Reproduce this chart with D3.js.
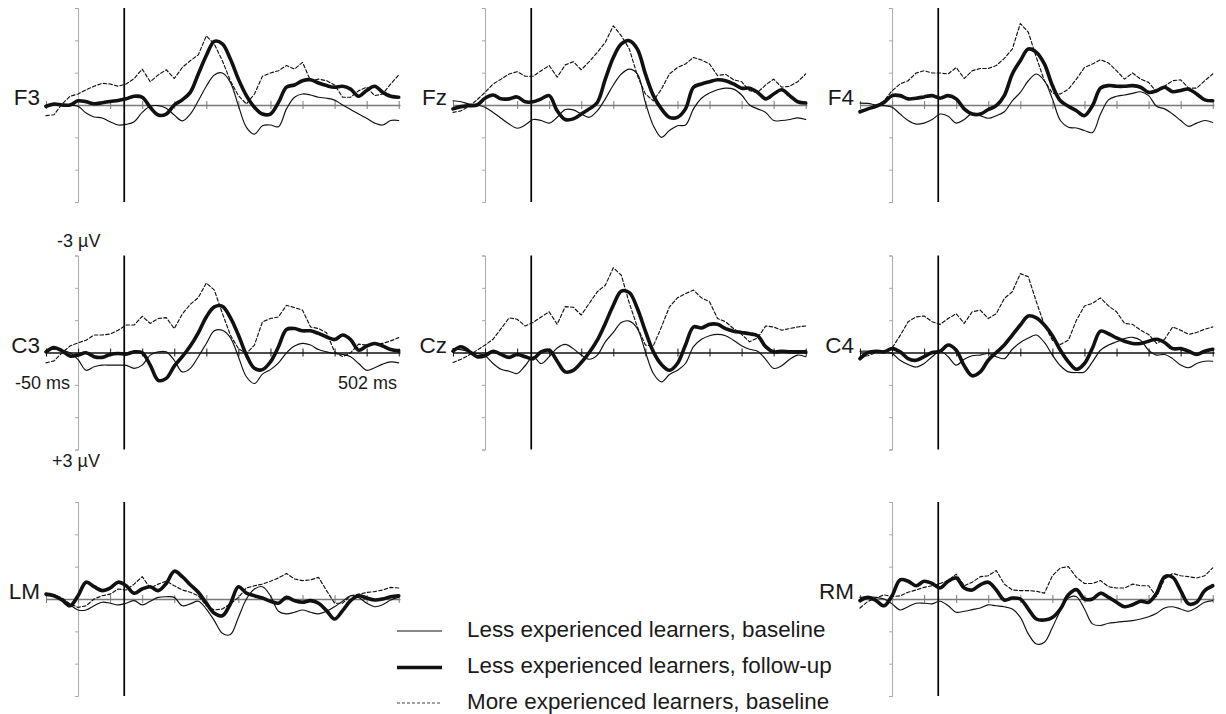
<!DOCTYPE html>
<html><head><meta charset="utf-8">
<script src="https://cdn.jsdelivr.net/npm/d3@7"></script>
<style>
body{margin:0;background:#fff}
svg{display:block}
text{font-family:"Liberation Sans",Arial,Helvetica,sans-serif;fill:#1a1a1a}
</style>
</head><body>
<svg id="chart" width="1226" height="714"></svg>
<script>
// ---- DATA ----
const times = [-50,-37.5,-25,-12.5,0,12.5,25,37.5,50,62.5,75,87.5,100,112.5,125,137.5,150,162.5,175,187.5,200,212.5,225,237.5,250,262.5,275,287.5,300,312.5,325,337.5,350,362.5,375,387.5,400,412.5,425,437.5,450,462.5,475,487.5,500];
const seriesNames = ["Less experienced learners, baseline","Less experienced learners, follow-up","More experienced learners, baseline"];
const electrodes = ["F3","Fz","F4","C3","Cz","C4","LM","RM"];
const timeDomain = [-50, 502];
const voltDomain = [-3, 3];
const xTickValues = [-50,0,50,100,150,200,250,300,350,400,450,500];
const yTickValues = [-3,-2,-1,0,1,2,3];
const onsetMs = 72;
const scaleLabels = ["-3 µV","+3 µV","-50 ms","502 ms"];

// values in µV (negative plotted up)
const F3_lessBase = [0.02,-0.03,0,0,0.04,0.25,0.37,0.40,0.52,0.62,0.60,0.52,0.23,0.04,0.02,0.10,0.31,0.49,0.28,-0.13,-0.58,-0.93,-0.99,-0.70,0.02,0.69,0.90,0.64,0.62,0.67,0.12,-0.24,-0.34,-0.31,-0.24,-0.21,-0.15,0,0.14,0.28,0.41,0.56,0.62,0.48,0.48];
const F3_lessFollow = [0.04,-0.03,0,0,-0.13,-0.10,-0.04,-0.07,-0.11,-0.14,-0.19,-0.27,-0.24,0.07,0.31,0.28,0,-0.16,-0.39,-0.96,-1.53,-1.97,-1.89,-1.42,-0.80,-0.29,0.07,0.28,0.28,-0.08,-0.55,-0.62,-0.75,-0.78,-0.68,-0.60,-0.55,-0.58,-0.49,-0.27,-0.45,-0.58,-0.39,-0.27,-0.24];
const F3_moreBase = [0.33,0.30,-0.03,-0.27,-0.34,-0.47,-0.58,-0.67,-0.65,-0.58,-0.65,-0.82,-1.11,-0.72,-0.93,-1.09,-0.82,-1.16,-1.37,-1.55,-2.14,-1.88,-1.37,-0.75,-0.29,-0.03,-0.34,-0.89,-0.99,-1.06,-1.22,-1.11,-1.32,-0.75,-0.80,-0.75,-0.62,-0.24,-0.24,-0.44,-0.55,-0.29,-0.34,-0.65,-0.93];

const Fz_lessBase = [-0.13,-0.10,-0.03,0,0.07,0.23,0.41,0.59,0.72,0.62,0.45,0.48,0.56,0.38,0.14,0.15,0.28,0.38,0.18,-0.19,-0.62,-0.96,-1.11,-0.96,-0.08,0.64,1.00,0.79,0.64,0.62,0.12,-0.21,-0.37,-0.47,-0.52,-0.49,-0.31,0,0.12,0.23,0.48,0.48,0.45,0.40,0.45];
const Fz_lessFollow = [0.12,0.05,0.02,0,-0.21,-0.31,-0.19,-0.19,-0.25,-0.10,-0.10,-0.19,-0.29,0.18,0.45,0.43,0.28,0.12,-0.08,-0.80,-1.47,-1.89,-1.99,-1.73,-0.96,-0.29,0.12,0.38,0.38,0.12,-0.55,-0.65,-0.72,-0.78,-0.75,-0.65,-0.52,-0.52,-0.39,-0.19,-0.34,-0.47,-0.29,-0.10,-0.06];
const Fz_moreBase = [0.23,0.18,0.04,-0.16,-0.39,-0.65,-0.80,-0.96,-1.03,-0.89,-0.89,-1.06,-1.22,-0.86,-1.24,-1.34,-1.09,-1.34,-1.63,-1.94,-2.45,-2.14,-1.73,-0.91,-0.34,-0.13,-0.49,-0.96,-1.16,-1.27,-1.47,-1.39,-1.27,-0.91,-0.95,-0.78,-0.72,-0.44,-0.39,-0.62,-0.80,-0.55,-0.58,-0.72,-0.96];

const F4_lessBase = [-0.06,-0.05,0,0.02,0.07,0.28,0.48,0.59,0.56,0.45,0.28,0.35,0.56,0.45,0.26,0.33,0.41,0.33,0.21,-0.13,-0.39,-0.75,-0.96,-0.75,-0.19,0.48,0.69,0.71,0.79,0.85,0.28,-0.16,-0.27,-0.31,-0.36,-0.41,-0.29,0.04,0.12,0.28,0.48,0.66,0.56,0.48,0.54];
const F4_lessFollow = [0.21,0.12,0.04,-0.08,-0.29,-0.29,-0.19,-0.21,-0.25,-0.29,-0.21,-0.29,-0.19,0.12,0.28,0.28,0.14,0.02,-0.29,-0.96,-1.37,-1.73,-1.63,-1.27,-0.60,-0.13,0.04,0.18,0.33,0.02,-0.52,-0.60,-0.58,-0.58,-0.60,-0.55,-0.39,-0.44,-0.55,-0.41,-0.45,-0.49,-0.34,-0.16,-0.13];
const F4_moreBase = [0.18,0.12,0.04,-0.13,-0.44,-0.65,-0.75,-0.99,-1.06,-0.99,-0.99,-0.96,-1.16,-0.82,-1.06,-1.13,-1.13,-1.22,-1.44,-1.73,-2.52,-2.25,-1.47,-0.75,-0.37,-0.34,-0.49,-0.80,-1.16,-1.27,-1.40,-1.30,-1.06,-0.80,-0.99,-0.80,-0.70,-0.41,-0.58,-0.75,-0.78,-0.52,-0.52,-0.75,-0.96];

const C3_lessBase = [-0.07,-0.10,-0.07,0.01,0.22,0.55,0.44,0.39,0.39,0.39,0.40,0.49,0.39,0.08,-0.02,-0.02,0.24,0.60,0.49,0.13,-0.28,-0.67,-0.69,-0.46,0.13,0.75,0.96,0.67,0.53,0.32,0.01,-0.20,-0.28,-0.23,-0.09,-0.02,0.03,0.06,0.13,0.34,0.55,0.47,0.36,0.29,0.32];
const C3_lessFollow = [-0.02,-0.15,-0.05,0.11,0.08,0.01,0.13,0.15,0.06,0.03,0.05,-0.02,0.01,0.39,0.86,0.80,0.42,0.13,-0.20,-0.61,-1.10,-1.41,-1.43,-1.08,-0.54,0.08,0.49,0.53,0.29,-0.18,-0.71,-0.74,-0.67,-0.67,-0.59,-0.48,-0.40,-0.54,-0.40,-0.07,-0.20,-0.28,-0.20,-0.09,-0.05];
const C3_moreBase = [0.32,0.26,0.01,-0.20,-0.30,-0.38,-0.54,-0.54,-0.57,-0.69,-0.85,-0.85,-1.12,-0.90,-1.05,-1.08,-0.74,-1.19,-1.49,-1.70,-2.15,-1.93,-1.21,-0.54,-0.12,0.03,-0.23,-0.95,-1.05,-1.10,-1.46,-1.39,-1.31,-0.79,-0.74,-0.61,-0.02,0.13,0.01,-0.26,-0.23,-0.26,-0.28,-0.36,-0.46];

const Cz_lessBase = [-0.12,-0.09,-0.02,0.03,0.10,0.34,0.52,0.58,0.65,0.41,0.13,0.34,0.13,-0.14,-0.25,-0.12,0.08,0.21,0.08,-0.33,-0.62,-0.93,-0.97,-0.74,-0.02,0.65,0.91,0.68,0.55,0.34,-0.18,-0.41,-0.52,-0.56,-0.52,-0.38,-0.21,-0.10,-0.04,0.21,0.49,0.41,0.21,0.08,0.13];
const Cz_lessFollow = [-0.04,-0.18,-0.04,0.13,0.10,-0.04,0.06,0.15,0.06,0.13,0.19,-0.02,-0.07,0.27,0.60,0.55,0.31,0,-0.38,-0.90,-1.46,-1.90,-1.85,-1.36,-0.66,-0.02,0.37,0.55,0.34,-0.23,-0.79,-0.76,-0.87,-0.87,-0.74,-0.66,-0.62,-0.58,-0.52,-0.18,-0.02,-0.04,-0.02,-0.02,-0.02];
const Cz_moreBase = [0.31,0.21,0.08,-0.07,-0.23,-0.41,-0.74,-1.07,-1.03,-0.82,-0.93,-1.10,-1.26,-0.87,-1.42,-1.40,-1.16,-1.52,-1.88,-2.08,-2.62,-2.39,-1.52,-0.79,-0.23,-0.21,-0.79,-1.41,-1.69,-1.82,-1.93,-1.69,-1.57,-1.05,-0.95,-0.74,-0.56,-0.33,-0.45,-0.82,-0.79,-0.69,-0.74,-0.79,-0.82];

const C4_lessBase = [-0.04,-0.04,-0.02,-0.04,0.03,0.24,0.37,0.45,0.34,0.13,-0.04,0.13,0.39,0.21,0.10,0.08,0.03,0.13,0.19,-0.10,-0.31,-0.45,-0.54,-0.31,0.08,0.41,0.60,0.62,0.60,0.29,-0.07,-0.23,-0.33,-0.43,-0.47,-0.38,-0.07,0.08,0.06,0.19,0.39,0.47,0.34,0.27,0.27];
const C4_lessFollow = [0.19,0,-0.04,-0.02,-0.12,-0.02,0.19,0.24,0.13,0,-0.04,-0.23,-0.07,0.41,0.72,0.60,0.24,0,-0.23,-0.54,-0.85,-1.13,-1.07,-0.85,-0.52,-0.07,0.29,0.52,0.34,-0.14,-0.66,-0.58,-0.45,-0.35,-0.28,-0.28,-0.35,-0.41,-0.31,-0.12,-0.12,-0.04,0.06,-0.04,-0.10];
const C4_moreBase = [0.13,0.10,0,-0.04,-0.14,-0.52,-0.95,-1.10,-1.13,-0.95,-0.87,-1.05,-1.20,-0.90,-1.26,-1.31,-1.05,-1.20,-1.67,-1.88,-2.44,-2.34,-1.57,-0.85,-0.38,-0.25,-0.38,-1.00,-1.44,-1.52,-1.69,-1.44,-1.26,-0.90,-0.87,-0.69,-0.56,-0.28,-0.41,-0.79,-0.69,-0.56,-0.62,-0.72,-0.79];

const LM_lessBase = [-0.13,-0.13,0,0.18,0.34,0.34,0.21,0.10,0.13,0.18,0.13,0.05,0.18,0.07,-0.05,-0.07,-0.05,0.21,0.15,0.07,0.31,0.67,1.06,1.10,0.57,0,-0.31,-0.38,-0.10,0.38,0.46,0.41,0.34,0.41,0.46,0.38,0.24,0.07,-0.10,-0.05,0.13,0.24,0.18,0.03,-0.05];
const LM_lessFollow = [-0.15,-0.10,0.03,0.21,-0.10,-0.52,-0.38,-0.26,-0.34,-0.52,-0.41,-0.18,-0.31,-0.38,-0.26,-0.48,-0.86,-0.69,-0.44,-0.21,0.13,0.44,0.52,0.15,-0.38,-0.18,-0.10,-0.03,0.07,0.13,-0.05,0.05,0.10,0.05,0.13,0.36,0.62,0.36,0.05,-0.10,-0.03,0.03,0,-0.07,-0.10];
const LM_moreBase = [-0.10,-0.13,-0.03,0.15,0.26,0.21,0,-0.10,-0.15,-0.31,-0.28,-0.46,-0.69,-0.34,-0.46,-0.55,-0.41,-0.28,-0.21,-0.10,0.21,0.34,0.31,0.15,-0.05,-0.34,-0.41,-0.46,-0.55,-0.65,-0.79,-0.62,-0.57,-0.59,-0.67,-0.26,0.13,0.13,-0.10,-0.15,-0.20,-0.23,-0.28,-0.36,-0.34];

const RM_lessBase = [-0.05,-0.07,-0.05,0,0.15,0.34,0.24,0.13,0.13,0.15,0.07,0.21,0.41,0.38,0.33,0.28,0.18,0.21,0.24,0.31,0.57,1.08,1.39,1.34,0.88,0.36,-0.03,-0.07,0.31,0.77,0.82,0.75,0.72,0.69,0.67,0.62,0.55,0.44,0.28,0.24,0.31,0.38,0.26,0.10,0.05];
const RM_lessFollow = [0.05,-0.05,0.05,0.21,-0.10,-0.59,-0.55,-0.41,-0.55,-0.48,-0.34,-0.55,-0.65,-0.34,-0.28,-0.44,-0.52,-0.28,0.03,-0.03,0,0.31,0.62,0.65,0.57,0.31,-0.13,-0.29,0,0,-0.18,-0.05,0.10,0.24,0.18,0.07,0.10,-0.18,-0.69,-0.67,-0.26,0.15,0.10,-0.26,-0.41];
const RM_moreBase = [0.28,0.07,-0.03,-0.13,-0.07,-0.10,-0.21,-0.28,-0.36,-0.41,-0.48,-0.57,-0.77,-0.41,-0.52,-0.69,-0.72,-0.88,-0.46,-0.28,-0.26,-0.26,-0.24,-0.18,-0.72,-0.96,-1.00,-0.67,-0.48,-0.48,-0.57,-0.38,-0.34,-0.34,-0.46,-0.41,-0.41,-0.07,-0.62,-0.79,-0.72,-0.69,-0.65,-0.72,-0.96];

const dataByElectrode = {
  F3:[F3_lessBase,F3_lessFollow,F3_moreBase],
  Fz:[Fz_lessBase,Fz_lessFollow,Fz_moreBase],
  F4:[F4_lessBase,F4_lessFollow,F4_moreBase],
  C3:[C3_lessBase,C3_lessFollow,C3_moreBase],
  Cz:[Cz_lessBase,Cz_lessFollow,Cz_moreBase],
  C4:[C4_lessBase,C4_lessFollow,C4_moreBase],
  LM:[LM_lessBase,LM_lessFollow,LM_moreBase],
  RM:[RM_lessBase,RM_lessFollow,RM_moreBase]
};

// ---- LAYOUT ----
const colX = [46, 453, 860];
const rowTop = [8, 255.5, 502];
const panelW = 354, panelH = 194;
const gridPos = {F3:[0,0],Fz:[0,1],F4:[0,2],C3:[1,0],Cz:[1,1],C4:[1,2],LM:[2,0],RM:[2,2]};
const seriesStyle = [
  {width:1.15, dash:null, color:"#111", curve:d3.curveCatmullRom.alpha(0.5)},
  {width:3.6, dash:null, color:"#111", curve:d3.curveCatmullRom.alpha(0.5)},
  {width:1.15, dash:"3.5,2.2", color:"#111", curve:d3.curveLinear}
];
const drawOrder = [2,0,1];

const svg = d3.select("#chart");

electrodes.forEach(name => {
  const [r, c] = gridPos[name];
  const x0 = colX[c], top = rowTop[r];
  const x = d3.scaleLinear().domain(timeDomain).range([x0, x0 + panelW]);
  const y = d3.scaleLinear().domain(voltDomain).range([top, top + panelH]);
  const g = svg.append("g");

  // y axis (at 0 ms)
  const ya = g.append("g").attr("transform", `translate(${x(0)},0)`)
    .call(d3.axisLeft(y).tickValues(yTickValues).tickSize(3).tickSizeOuter(3).tickFormat(""));
  ya.selectAll("path,line").attr("stroke", "#a8a8a8").attr("stroke-width", 1);

  // x axis at 0 µV
  const xa = g.append("g").attr("transform", `translate(0,${y(0)})`)
    .call(d3.axisBottom(x).tickValues(xTickValues).tickSize(4).tickSizeOuter(0).tickFormat(""));
  const axColor = r === 1 ? "#111" : "#7a7a7a";
  xa.select(".domain").attr("stroke", axColor).attr("stroke-width", 1.3);
  xa.selectAll(".tick line").attr("y1", -4).attr("y2", 4).attr("stroke", axColor).attr("stroke-width", 1);

  // onset marker
  g.append("line").attr("x1", x(onsetMs)).attr("x2", x(onsetMs))
    .attr("y1", y(voltDomain[0])).attr("y2", y(voltDomain[1]))
    .attr("stroke", "#000").attr("stroke-width", 1.7);

  // waveforms
  drawOrder.forEach(si => {
    const st = seriesStyle[si];
    const line = d3.line().x((d, i) => x(times[i])).y(d => y(d)).curve(st.curve);
    g.append("path").datum(dataByElectrode[name][si])
      .attr("d", line).attr("fill", "none")
      .attr("stroke", st.color).attr("stroke-width", st.width)
      .attr("stroke-linejoin", "round").attr("stroke-linecap", "round")
      .attr("stroke-dasharray", st.dash);
  });

  // electrode label
  g.append("text").attr("x", x0 - 6).attr("y", y(0)).attr("text-anchor", "end")
    .style("font-size", "22.5px").text(name);

  if (name === "C3") {
    g.append("text").attr("x", x(0) - 21).attr("y", y(-3) - 9).style("font-size", "18px").text(scaleLabels[0]);
    g.append("text").attr("x", x(0) - 26).attr("y", y(3) + 17).style("font-size", "18px").text(scaleLabels[1]);
    g.append("text").attr("x", x(timeDomain[0]) - 31).attr("y", y(0) + 36).style("font-size", "18px").text(scaleLabels[2]);
    g.append("text").attr("x", x(timeDomain[1]) - 3).attr("y", y(0) + 36).attr("text-anchor", "end").style("font-size", "18px").text(scaleLabels[3]);
  }
});

// ---- LEGEND ----
const legendY = [631, 667.5, 703];
const leg = svg.append("g");
seriesNames.forEach((nm, i) => {
  const st = seriesStyle[i];
  leg.append("line").attr("x1", 397).attr("x2", 442).attr("y1", legendY[i]).attr("y2", legendY[i])
    .attr("stroke", i === 2 ? "#444" : st.color).attr("stroke-width", st.width)
    .attr("stroke-dasharray", i === 2 ? "3,2" : null);
  leg.append("text").attr("x", 467).attr("y", legendY[i] + 5.5).style("font-size", "22.4px").text(nm);
});
</script>
</body></html>
